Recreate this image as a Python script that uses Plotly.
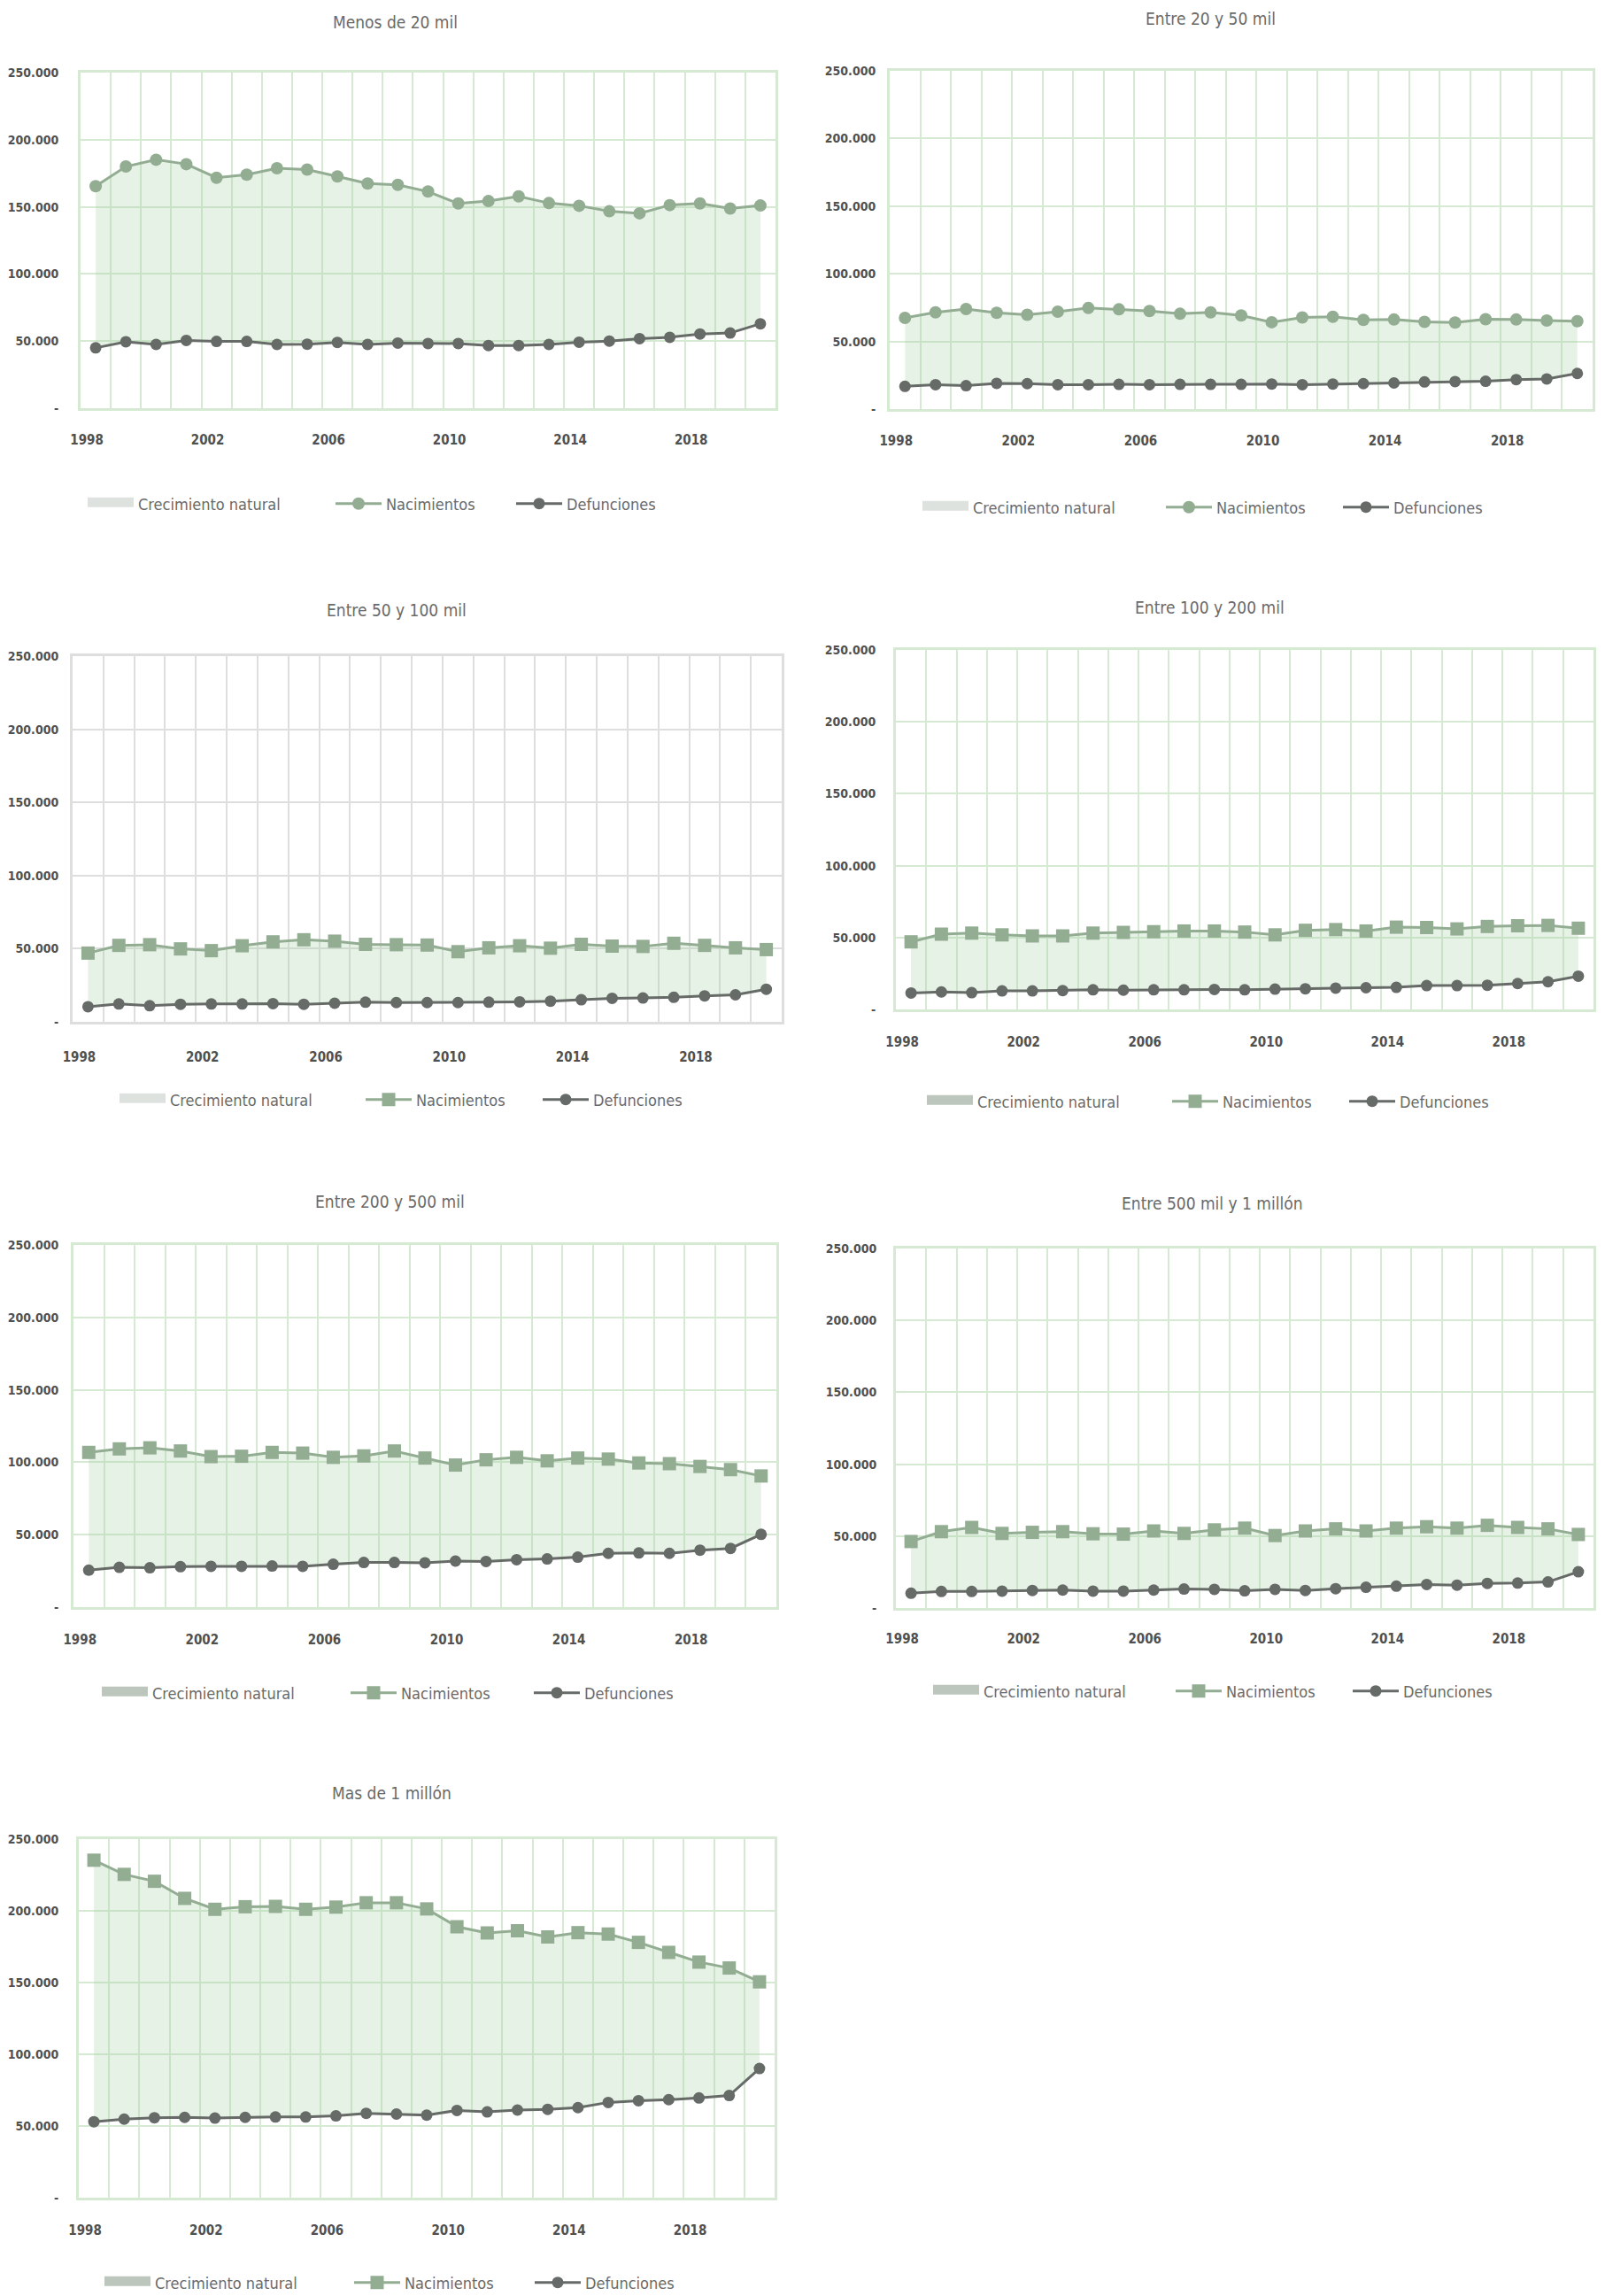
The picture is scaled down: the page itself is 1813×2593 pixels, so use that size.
import plotly.graph_objects as go

W, H = 1813, 2593

# ---------------- data ----------------
years = list(range(1998, 2021))
tick_years = [1998, 2002, 2006, 2010, 2014, 2018]
y_tickvals = [0, 50000, 100000, 150000, 200000, 250000]
y_ticktext = ["-", "50.000", "100.000", "150.000", "200.000", "250.000"]
legend_names = ["Crecimiento natural", "Nacimientos", "Defunciones"]

titles = ["Menos de 20 mil", "Entre 20 y 50 mil", "Entre 50 y 100 mil",
          "Entre 100 y 200 mil", "Entre 200 y 500 mil", "Entre 500 mil y 1 millón",
          "Mas de 1 millón"]

nac_lt20 = [165400, 180050, 185100, 181800, 171700, 174000, 178800, 177800, 172700, 167400,
            166400, 161400, 152500, 154300, 157800, 152800, 150800, 146700, 145200, 151300,
            152500, 148700, 151000]
def_lt20 = [44950, 49500, 47500, 50500, 49750, 49750, 47500, 47700, 49000, 47500,
            48500, 48200, 48200, 46700, 46700, 47500, 49200, 50000, 51800, 52800,
            55300, 56000, 62900]

nac_20_50 = [67450, 71460, 73970, 71210, 69700, 71960, 74720, 73720, 72470, 70460,
             71460, 69200, 64190, 67700, 68200, 65950, 66200, 64440, 63940, 66450,
             66200, 65450, 64940]
def_20_50 = [16800, 18050, 17300, 19060, 18800, 18050, 18050, 18300, 18050, 18300,
             18300, 18300, 18550, 18050, 18550, 18800, 19300, 20060, 20310, 20560,
             21800, 22300, 26330]

nac_50_100 = [46980, 52250, 52730, 49860, 48660, 52010, 54650, 56090, 55130, 52970,
              52730, 52490, 47940, 50580, 52010, 50340, 52970, 51770, 51530, 53690,
              52250, 50580, 49380]
def_50_100 = [10310, 12220, 11030, 11980, 12220, 12220, 12460, 11980, 12700, 13420,
              13180, 13180, 13180, 13420, 13660, 14140, 15100, 16060, 16300, 16780,
              17740, 18460, 22290]

nac_100_200 = [46980, 52340, 53070, 51850, 51120, 51120, 53070, 53550, 54040, 54530,
               54530, 53800, 51850, 55010, 55500, 54530, 57210, 56960, 55990, 57690,
               58180, 58420, 56480]
def_100_200 = [11440, 12170, 11680, 12900, 12900, 13150, 13630, 13390, 13630, 13630,
               13880, 13630, 14120, 14360, 14850, 15090, 15340, 16550, 16550, 16800,
               18010, 19230, 23130]

nac_200_500 = [106800, 109220, 109950, 107770, 103880, 104130, 106800, 106310, 103400, 104370,
               107770, 102910, 98060, 101700, 103400, 100970, 102910, 102180, 99510, 99030,
               97090, 94900, 90530]
def_200_500 = [25490, 27430, 27180, 27910, 28160, 28160, 28400, 28160, 29610, 30830,
               30830, 30580, 31800, 31550, 32770, 33250, 34470, 37140, 37380, 37140,
               39320, 40530, 50240]

nac_500_1m = [46230, 53080, 56020, 51860, 52590, 53080, 51610, 51370, 53570, 51860,
              54310, 55530, 50390, 53570, 55040, 53570, 55530, 56510, 55530, 57490,
              56020, 55040, 51130]
def_500_1m = [10270, 11500, 11500, 11740, 12230, 12480, 11740, 11740, 12480, 13210,
              12960, 11990, 12960, 12230, 13450, 14430, 15170, 16390, 15900, 17120,
              17370, 18100, 25200]

nac_gt1m = [235290, 225400, 220590, 208670, 201060, 202840, 203090, 201060, 202590, 205630,
            205630, 201320, 188890, 184580, 186110, 181790, 184780, 183820, 178020, 171010,
            164250, 160140, 150480]
def_gt1m = [52990, 54770, 55780, 56030, 55530, 56030, 56290, 56290, 57050, 58820,
            58320, 57560, 60850, 59840, 61110, 61610, 62800, 66430, 67630, 68360,
            69570, 71260, 90100]

nac_series = [nac_lt20, nac_20_50, nac_50_100, nac_100_200, nac_200_500, nac_500_1m, nac_gt1m]
def_series = [def_lt20, def_20_50, def_50_100, def_100_200, def_200_500, def_500_1m, def_gt1m]

# ---------------- styling / layout ----------------
FONT = "DejaVu Sans Condensed, DejaVu Sans, sans-serif"
NAC_COLOR = "#93ad93"
DEF_COLOR = "#666b68"
FILL = "rgba(170,210,165,0.28)"
GREEN_GRID = "#d5e9d3"
GREY_GRID = "#dedede"
TICK_COLOR = "#505050"
TEXT_COLOR = "#6a6a6a"

# per panel: plot box (x0, y0, x1, y1) px, title center, legend item starts + legend y,
# y-label standoff, x-label standoff, births symbol, legend swatch colour, grid colour
panels = [
    dict(box=(91, 82, 876, 461), title=(446, 25), leg=(99, 379, 583), ly=569, ys=19, xs=20,
         sym="circle", swatch="#dee2de", grid=GREEN_GRID),
    dict(box=(1005, 80, 1799, 462), title=(1367, 21), leg=(1042, 1317, 1517), ly=573, ys=10, xs=20,
         sym="circle", swatch="#dee2de", grid=GREEN_GRID),
    dict(box=(82, 741, 883, 1154), title=(448, 689), leg=(135, 413, 613), ly=1242, ys=10, xs=24,
         sym="square", swatch="#dee2de", grid=GREY_GRID),
    dict(box=(1012, 734, 1800, 1140), title=(1366, 686), leg=(1047, 1324, 1524), ly=1244, ys=17, xs=21,
         sym="square", swatch="#bcc6bc", grid=GREEN_GRID),
    dict(box=(83, 1406, 877, 1815), title=(440, 1357), leg=(115, 396, 603), ly=1912, ys=11, xs=21,
         sym="square", swatch="#bcc6bc", grid=GREEN_GRID),
    dict(box=(1012, 1410, 1800, 1816), title=(1369, 1359), leg=(1054, 1328, 1528), ly=1910, ys=16, xs=19,
         sym="square", swatch="#bcc6bc", grid=GREEN_GRID),
    dict(box=(89, 2077, 875, 2482), title=(442, 2025), leg=(118, 400, 604), ly=2578, ys=17, xs=21,
         sym="square", swatch="#bcc6bc", grid=GREEN_GRID),
]

fig = go.Figure()
layout = dict(
    width=W, height=H, autosize=False,
    margin=dict(l=0, r=0, t=0, b=0, pad=0, autoexpand=False),
    paper_bgcolor="white", plot_bgcolor="white",
    font=dict(family=FONT, color=TEXT_COLOR),
    hovermode=False,
)
annotations = []

ytickfont = dict(family=FONT, size=14, color=TICK_COLOR, weight="bold")
xtickfont = dict(family=FONT, size=15, color=TICK_COLOR, weight="bold")
LEG_OFFSET = 5  # legend box left -> symbol start

legend_count = 0
for i, p in enumerate(panels, start=1):
    xa = "x" if i == 1 else f"x{i}"
    ya = "y" if i == 1 else f"y{i}"
    nac = nac_series[i - 1]
    dfn = def_series[i - 1]

    # one legend per item so each entry sits at its own place
    lg_keys = []
    for k in range(3):
        legend_count += 1
        key = "legend" if legend_count == 1 else f"legend{legend_count}"
        lg_keys.append(key)
        layout[key] = dict(
            orientation="h", x=(p["leg"][k] - LEG_OFFSET) / W, xanchor="left",
            y=1 - p["ly"] / H, yanchor="middle",
            font=dict(family=FONT, size=18, color=TEXT_COLOR),
            itemwidth=52, bgcolor="rgba(0,0,0,0)", borderwidth=0,
            itemclick=False, itemdoubleclick=False,
        )

    # filled band (natural growth) between deaths and births
    fig.add_trace(go.Scatter(x=years, y=dfn, mode="lines", line=dict(width=0),
                             showlegend=False, hoverinfo="skip", xaxis=xa, yaxis=ya))
    fig.add_trace(go.Scatter(x=years, y=nac, mode="lines", line=dict(width=0),
                             fill="tonexty", fillcolor=FILL,
                             showlegend=False, hoverinfo="skip", xaxis=xa, yaxis=ya))
    # legend swatch for the band
    fig.add_trace(go.Scatter(x=[None], y=[None], mode="lines", fill="toself",
                             line=dict(color=p["swatch"], width=10),
                             fillcolor=p["swatch"], name=legend_names[0],
                             legend=lg_keys[0], xaxis=xa, yaxis=ya))
    fig.add_trace(go.Scatter(x=years, y=nac, mode="lines+markers", name=legend_names[1],
                             line=dict(color=NAC_COLOR, width=3),
                             marker=dict(symbol=p["sym"], size=15 if p["sym"] == "square" else 14,
                                         color=NAC_COLOR),
                             legend=lg_keys[1], xaxis=xa, yaxis=ya))
    fig.add_trace(go.Scatter(x=years, y=dfn, mode="lines+markers", name=legend_names[2],
                             line=dict(color=DEF_COLOR, width=3),
                             marker=dict(symbol="circle", size=13, color=DEF_COLOR),
                             legend=lg_keys[2], xaxis=xa, yaxis=ya))

    x0, y0, x1, y1 = p["box"]
    xkey = "xaxis" if i == 1 else f"xaxis{i}"
    ykey = "yaxis" if i == 1 else f"yaxis{i}"
    layout[xkey] = dict(
        domain=[x0 / W, x1 / W], anchor=ya, range=[1997.5, 2020.5], automargin=False,
        tickmode="array", tickvals=tick_years, ticktext=[str(t) for t in tick_years],
        showgrid=False, ticks="", zeroline=False,
        showline=True, mirror=True, linecolor=p["grid"], linewidth=3,
        minor=dict(tickmode="linear", tick0=1997.5, dtick=1, showgrid=True,
                   gridcolor=p["grid"], gridwidth=1.5, ticks=""),
        tickfont=xtickfont, ticklabelshift=-10, ticklabelstandoff=p["xs"],
        fixedrange=True,
    )
    layout[ykey] = dict(
        domain=[1 - y1 / H, 1 - y0 / H], anchor=xa, range=[0, 250000], automargin=False,
        tickmode="array", tickvals=y_tickvals, ticktext=y_ticktext,
        showgrid=True, gridcolor=p["grid"], gridwidth=1.5, ticks="", zeroline=False,
        showline=True, mirror=True, linecolor=p["grid"], linewidth=3,
        tickfont=ytickfont, ticklabelstandoff=p["ys"], fixedrange=True,
    )
    tx, ty = p["title"]
    annotations.append(dict(
        text=titles[i - 1], x=tx / W, y=1 - ty / H, xref="paper", yref="paper",
        xanchor="center", yanchor="middle", showarrow=False,
        font=dict(family=FONT, size=19, color=TEXT_COLOR),
    ))

layout["annotations"] = annotations
fig.update_layout(**layout)

fig.write_html("out.html", config={"displayModeBar": False},
               post_script="document.body.style.margin='0';")
